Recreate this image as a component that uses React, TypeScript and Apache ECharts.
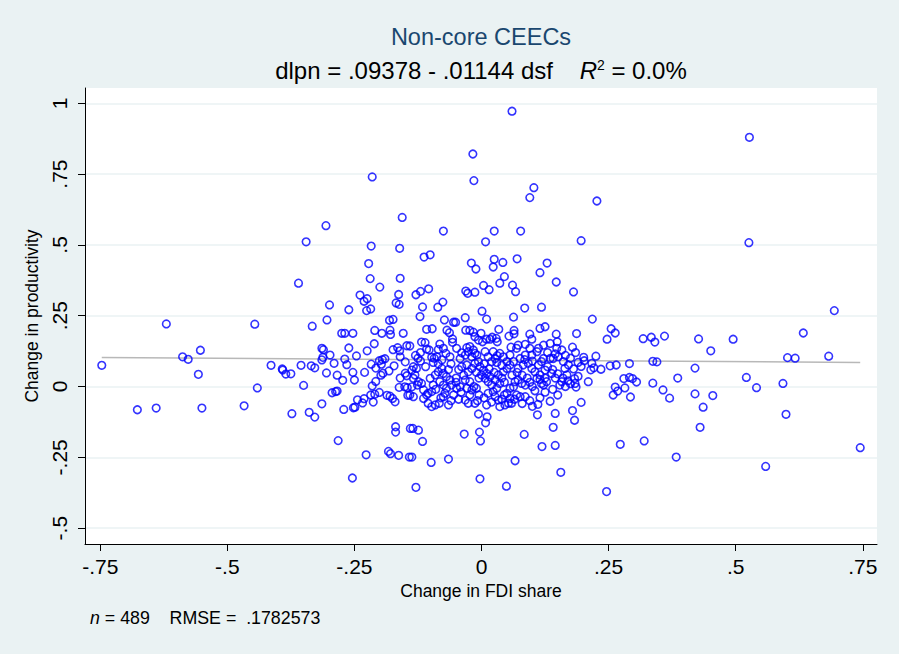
import React, { useEffect, useRef } from "react";
import * as echarts from "echarts";

// Change in FDI share (dsf), Change in productivity (dlpn)
const obs: [number, number][] = [
  // upper left
  [-0.215,0.740],[-0.156,0.597],[-0.306,0.568],[-0.345,0.511],[-0.217,0.496],[-0.161,0.488],[-0.222,0.434],[-0.219,0.381],[-0.160,0.382],[-0.200,0.351],[-0.360,0.365],[-0.239,0.323],[-0.225,0.310],[-0.231,0.301],[-0.163,0.325],[-0.168,0.295],[-0.162,0.290],[-0.299,0.288],[-0.261,0.271],[-0.226,0.268],[-0.218,0.274],
  // upper centre
  [0.060,0.972],[-0.017,0.821],[-0.015,0.727],[0.103,0.702],[0.095,0.667],[-0.075,0.549],[0.025,0.549],[0.077,0.549],[0.008,0.511],[-0.113,0.457],[-0.101,0.465],[-0.020,0.436],[-0.011,0.415],[0.025,0.449],[0.023,0.422],[0.042,0.438],[0.070,0.451],[0.115,0.402],[0.129,0.436],[0.147,0.369],[0.045,0.388],[0.036,0.365],[0.004,0.357],[0.015,0.342],[0.061,0.358],[0.067,0.335],[-0.031,0.337],[-0.027,0.329],[-0.013,0.333],[-0.129,0.324],[-0.120,0.336],[-0.104,0.345],[-0.076,0.298],[-0.086,0.280],[-0.116,0.281],[0.001,0.266],[0.085,0.277],[0.118,0.280],[0.181,0.334],
  [0.227,0.655],[0.196,0.515],[0.527,0.880],[0.526,0.508],[0.694,0.268],
  // far left
  [-0.620,0.221],[-0.747,0.075],[-0.588,0.105],[-0.577,0.096],[-0.553,0.128],[-0.557,0.043],[-0.677,-0.082],[-0.640,-0.076],[-0.550,-0.076],[-0.467,-0.068],
  // left cluster
  [-0.446,0.220],[-0.333,0.213],[-0.304,0.235],[-0.181,0.234],[-0.174,0.237],[-0.275,0.188],[-0.269,0.188],[-0.253,0.188],[-0.210,0.198],[-0.196,0.188],[-0.180,0.199],[-0.179,0.184],[-0.154,0.188],
  [-0.314,0.135],[-0.311,0.130],[-0.312,0.103],[-0.314,0.094],[-0.298,0.111],[-0.261,0.136],[-0.246,0.108],[-0.225,0.126],[-0.211,0.151],[-0.269,0.097],[-0.265,0.077],[-0.290,0.082],
  [-0.414,0.075],[-0.392,0.062],[-0.391,0.058],[-0.385,0.044],[-0.375,0.045],[-0.355,0.075],[-0.335,0.073],[-0.328,0.066],[-0.305,0.048],[-0.284,0.040],[-0.273,0.022],[-0.253,0.050],[-0.250,0.023],[-0.230,0.050],[-0.217,0.079],[-0.208,0.065],
  [-0.201,0.091],[-0.195,0.095],[-0.190,0.098],[-0.197,0.079],[-0.172,0.073],[-0.182,0.055],[-0.198,0.040],[-0.194,0.047],[-0.208,0.018],[-0.215,0.002],[-0.160,0.030],
  [-0.174,0.130],[-0.165,0.137],[-0.161,0.126],[-0.160,0.105],[-0.150,0.087],[-0.147,0.144],[-0.150,0.047],[-0.147,0.038],[-0.162,-0.003],[-0.151,-0.001],[-0.146,-0.004],[-0.145,-0.031],
  [-0.441,-0.005],[-0.350,0.004],[-0.294,-0.022],[-0.287,-0.018],[-0.284,-0.016],[-0.314,-0.061],[-0.244,-0.047],[-0.231,-0.043],[-0.252,-0.075],[-0.249,-0.073],[-0.271,-0.081],[-0.234,-0.058],[-0.213,-0.055],
  [-0.218,-0.030],[-0.210,-0.027],[-0.201,-0.021],[-0.186,-0.031],[-0.180,-0.034],[-0.175,-0.042],[-0.170,-0.054],
  [-0.373,-0.096],[-0.339,-0.091],[-0.328,-0.108],[-0.169,-0.142],[-0.169,-0.161],[-0.282,-0.191],[-0.227,-0.241],[-0.183,-0.229],[-0.179,-0.237],[-0.163,-0.243],[-0.142,-0.249],[-0.254,-0.323],[-0.140,-0.148],
  // right cluster
  [0.218,0.238],[0.255,0.204],[0.263,0.189],[0.247,0.167],[0.187,0.187],[0.179,0.139],[0.318,0.169],[0.334,0.174],[0.341,0.157],[0.360,0.178],[0.427,0.168],[0.451,0.126],[0.495,0.167],
  [0.201,0.103],[0.202,0.091],[0.225,0.107],[0.217,0.082],[0.221,0.066],[0.215,0.059],[0.235,0.061],[0.196,0.071],[0.181,0.062],[0.253,0.073],[0.265,0.076],[0.291,0.081],
  [0.337,0.089],[0.345,0.087],[0.420,0.065],[0.386,0.030],[0.190,0.036],[0.183,0.028],[0.184,0.011],[0.186,-0.002],[0.210,0.017],
  [0.280,0.028],[0.291,0.032],[0.297,0.028],[0.305,0.016],[0.282,-0.005],[0.263,-0.002],[0.259,-0.030],[0.268,-0.016],[0.293,-0.037],
  [0.337,0.012],[0.357,-0.012],[0.370,-0.041],[0.420,-0.026],[0.455,-0.032],[0.436,-0.073],[0.430,-0.144],[0.196,-0.056],[0.179,-0.085],[0.183,-0.119],[0.273,-0.204],[0.320,-0.192],[0.383,-0.249],[0.246,-0.371],
  [0.633,0.189],[0.602,0.102],[0.617,0.100],[0.683,0.107],[0.521,0.032],[0.541,-0.004],[0.593,0.011],[0.599,-0.098],[0.559,-0.282],[0.745,-0.216],
  // centre, below
  [-0.135,-0.148],[-0.124,-0.154],[-0.116,-0.194],[-0.137,-0.249],[-0.099,-0.268],[-0.065,-0.256],[-0.129,-0.356],[-0.034,-0.168],[-0.004,-0.161],[-0.002,-0.192],[-0.006,-0.097],[0.011,-0.107],[0.008,-0.128],[-0.003,-0.326],[0.049,-0.352],[0.066,-0.262],[0.084,-0.169],[0.119,-0.212],[0.145,-0.208],[0.156,-0.303],[0.141,-0.144],[0.110,-0.100],[0.111,-0.063],[0.145,-0.095],[0.135,-0.052],
  // centre, top of band
  [-0.121,0.247],[-0.073,0.235],[-0.055,0.227],[-0.051,0.227],[-0.032,0.243],[0.010,0.238],[0.063,0.245],
  [-0.108,0.202],[-0.097,0.204],[-0.068,0.199],[-0.063,0.190],[-0.057,0.168],[-0.057,0.156],[-0.031,0.199],[-0.023,0.198],[-0.016,0.192],[-0.013,0.176],[-0.001,0.188],[0.034,0.202],[0.021,0.174],[0.029,0.170],[0.054,0.178],[0.058,0.139],[0.064,0.198],[0.064,0.186],[0.095,0.185],[0.099,0.167],[0.115,0.205],[0.125,0.211],[0.147,0.185],[0.149,0.158],
  [-0.118,0.157],[-0.111,0.155],[-0.141,0.143],[-0.108,0.132],[-0.103,0.129],[-0.082,0.150],[-0.075,0.135],[-0.085,0.131],[-0.093,0.100],[-0.098,0.103],[-0.088,0.105],[-0.078,0.094],[-0.062,0.105],[-0.070,0.117],
  [-0.039,0.119],[-0.029,0.137],[-0.023,0.141],[-0.016,0.129],[-0.009,0.111],[-0.006,0.164],[0.002,0.158],[0.010,0.167],[0.017,0.167],[0.023,0.123],[0.031,0.109],[0.031,0.158],
  [-0.049,0.135],[-0.042,0.099],[-0.032,0.111],[-0.026,0.123],[-0.019,0.105],[-0.013,0.117],[0.007,0.123],[0.013,0.105],[0.020,0.088],[0.027,0.099],[0.036,0.117],[0.043,0.105],[0.050,0.088],[0.056,0.111],
  // centre, dense band
  [-0.134,0.070],[-0.128,0.064],[-0.137,0.058],[-0.131,0.041],[-0.134,0.029],[-0.124,0.017],[-0.118,0.011],[-0.126,0.005],[-0.137,-0.001],[-0.141,-0.030],[-0.134,-0.036],
  [-0.114,-0.012],[-0.105,-0.024],[-0.098,-0.018],[-0.108,-0.030],[-0.114,-0.042],[-0.105,-0.059],[-0.098,-0.071],[-0.091,-0.065],[-0.083,-0.059],
  [-0.101,0.029],[-0.091,0.041],[-0.085,0.052],[-0.078,0.064],[-0.075,0.046],[-0.069,0.035],[-0.062,0.023],[-0.082,0.017],[-0.075,0.005],[-0.069,-0.006],[-0.072,-0.024],[-0.075,-0.036],[-0.055,-0.030],[-0.049,-0.006],[-0.042,-0.001],[-0.059,0.005],
  [-0.039,0.070],[-0.029,0.076],[-0.026,0.052],[-0.019,0.064],[-0.013,0.082],[-0.006,0.088],[-0.003,0.070],[0.004,0.058],[0.010,0.046],[0.000,0.041],[0.007,0.029],[0.017,0.035],[0.013,0.017],[0.020,0.005],[0.013,-0.024],[0.023,-0.018],[0.030,-0.006],[0.036,0.011],[0.027,0.023],[0.033,0.041],[0.043,0.052],[0.050,0.064],[0.056,0.076],
  [-0.032,0.023],[-0.023,0.017],[-0.029,-0.006],[-0.019,-0.012],[-0.010,-0.006],[-0.023,-0.030],[-0.032,-0.048],[-0.026,-0.059],[-0.013,-0.059],[0.027,-0.036],[0.033,-0.048],[0.036,-0.071],[0.046,-0.065],[0.053,-0.059],[0.059,-0.059],[0.056,-0.042],[0.050,-0.024],[0.056,-0.006],[0.063,-0.001],[0.066,0.017],[0.072,0.023],[0.079,0.011],[0.086,0.005],[0.069,-0.030],[0.076,-0.036],[0.086,-0.036],
  [0.063,0.088],[0.072,0.064],[0.082,0.076],[0.092,0.082],[0.099,0.064],[0.105,0.052],[0.112,0.076],[0.118,0.088],[0.125,0.058],[0.115,0.041],[0.109,0.029],[0.118,0.011],[0.128,0.017],[0.122,0.005],[0.138,0.046],[0.154,0.005],[0.158,0.017],[0.168,0.041],[0.164,0.064],[0.171,0.076],[0.161,0.088],[0.151,0.105],[0.141,0.099],[0.135,0.099],[0.122,0.099],[0.109,0.123],[0.099,0.111],[0.086,0.111],[0.076,0.099],[0.069,0.135],[0.072,0.146],[0.086,0.149],[0.095,0.135],[0.112,0.135],[0.122,0.146],[0.135,0.152],[0.148,0.135],[0.158,0.129],
  // centre, overlapping marks
  [0.005,0.080],[0.015,0.062],[0.025,0.050],[0.040,0.030],[0.045,0.015],[0.060,0.040],[0.070,0.050],[0.080,0.040],[0.090,0.030],[0.095,0.015],[0.100,0.000],[0.105,-0.015],[0.115,0.025],[0.125,0.030],[0.130,0.070],[0.140,0.060],[0.145,0.030],[0.150,0.045],[0.160,0.030],[0.170,0.020],
  [-0.005,0.030],[-0.010,0.050],[-0.015,0.000],[-0.035,0.040],[-0.045,0.060],[-0.050,0.030],[-0.060,0.080],[-0.065,0.060],[-0.085,0.080],[-0.095,0.085],[-0.110,0.070],[-0.120,0.090],[-0.125,0.100],
  [-0.005,-0.030],[-0.008,-0.050],[0.005,-0.040],[0.010,-0.065],[0.020,-0.055],[0.040,-0.045],[0.045,-0.030],[0.065,-0.045],[0.080,-0.060],[0.095,-0.050],[0.100,-0.070],[0.115,-0.040],[0.125,-0.020],[0.140,-0.010],[0.150,-0.030],[0.165,0.000],[0.175,0.010],
  [-0.040,-0.020],[-0.045,-0.045],[-0.060,-0.050],[-0.065,-0.065],[-0.080,-0.040],[-0.090,-0.010],[-0.095,0.005],[-0.050,0.015],
  [0.030,0.085],[0.040,0.075],[0.085,0.095],[0.100,0.090],[0.130,0.120],[0.145,0.115],[0.165,0.110],[0.175,0.100],[0.185,0.120],[0.190,0.085],[-0.120,0.120],[-0.130,0.110],
];

const xTicks = [-0.75, -0.5, -0.25, 0, 0.25, 0.5, 0.75];
const yTicks = [-0.5, -0.25, 0, 0.25, 0.5, 0.75, 1];
const fitIntercept = 0.09378;
const fitSlope = -0.01144;
const titleText = "Non-core CEECs";
const nObs = 489;
const rmse = ".1782573";

const stataFmt = (v: number) => {
  if (Math.abs(v) < 1e-9) return "0";
  const s = String(+v.toFixed(2));
  return s.replace(/^(-?)0\./, "$1.");
};

export default function App() {
  const ref = useRef<HTMLDivElement>(null);
  useEffect(() => {
    if (!ref.current) return;
    const chart = echarts.init(ref.current, undefined, { renderer: "svg" });
    const xs = obs.map((d) => d[0]);
    const xMin = Math.min(...xs);
    const xMax = Math.max(...xs);
    const fit = [
      [xMin, fitIntercept + fitSlope * xMin],
      [xMax, fitIntercept + fitSlope * xMax],
    ];
    const font = "'Liberation Sans', Arial, Helvetica, sans-serif";
    chart.setOption({
      animation: false,
      backgroundColor: "#eaf2f3",
      textStyle: { fontFamily: font },
      grid: {
        left: 85,
        right: 22,
        top: 88,
        bottom: 110,
        show: true,
        backgroundColor: "#ffffff",
        borderWidth: 0,
        containLabel: false,
      },
      xAxis: {
        type: "value",
        min: -0.78,
        max: 0.778,
        name: "Change in FDI share",
        nameLocation: "middle",
        nameGap: 38,
        nameTextStyle: { fontSize: 17.5, color: "#000", fontFamily: font },
        axisLine: { show: true, onZero: false, lineStyle: { color: "#000", width: 1 } },
        axisTick: { show: true, length: 7, customValues: xTicks, lineStyle: { color: "#000" } },
        axisLabel: {
          customValues: xTicks,
          formatter: (v: number) => stataFmt(v),
          fontSize: 21,
          color: "#000",
          margin: 12,
          fontFamily: font,
        },
        splitLine: { show: false },
      },
      yAxis: {
        type: "value",
        min: -0.556,
        max: 1.054,
        name: "Change in productivity",
        nameLocation: "middle",
        nameGap: 37,
        nameTextStyle: { fontSize: 17.5, color: "#000", fontFamily: font },
        axisLine: { show: true, onZero: false, lineStyle: { color: "#000", width: 1 } },
        axisTick: { show: true, length: 7, customValues: yTicks, lineStyle: { color: "#000" } },
        axisLabel: {
          customValues: yTicks,
          formatter: (v: number) => stataFmt(v),
          fontSize: 21,
          color: "#000",
          rotate: 90,
          margin: 15,
          fontFamily: font,
        },
        splitLine: { show: true, lineStyle: { color: "#eaf2f3", width: 1.5 } },
      },
      series: [
        {
          type: "line",
          data: fit,
          symbol: "none",
          lineStyle: { color: "#b8b8b8", width: 1.5 },
          z: 1,
        },
        {
          type: "scatter",
          data: obs,
          symbol: "circle",
          symbolSize: 7.6,
          itemStyle: { color: "rgba(0,0,0,0)", borderColor: "#0000ff", borderWidth: 1.6 },
          z: 2,
        },
      ],
      graphic: [
        {
          type: "text",
          x: 481,
          y: 37,
          style: {
            text: titleText,
            fontSize: 23.5,
            fill: "#1a476f",
            align: "center",
            verticalAlign: "middle",
            fontFamily: font,
          },
        },
        {
          type: "text",
          x: 481,
          y: 70,
          style: {
            text: "{a|dlpn = .09378 - .01144 dsf    }{i|R}{s|2}{a| = 0.0%}",
            align: "center",
            verticalAlign: "middle",
            rich: {
              a: { fontSize: 24, fill: "#000", fontFamily: font },
              i: { fontSize: 24, fill: "#000", fontStyle: "italic", fontFamily: font },
              s: { fontSize: 14, fill: "#000", verticalAlign: "top", fontFamily: font, padding: [0, 0, 8, 0] },
            },
          },
        },
        {
          type: "text",
          x: 90,
          y: 618,
          style: {
            text: `{i|n}{a| = ${nObs}    RMSE =  ${rmse}}`,
            align: "left",
            verticalAlign: "middle",
            rich: {
              a: { fontSize: 17.8, fill: "#000", fontFamily: font },
              i: { fontSize: 17.8, fill: "#000", fontStyle: "italic", fontFamily: font },
            },
          },
        },
      ],
    });
    return () => chart.dispose();
  }, []);
  return (
    <div
      ref={ref}
      style={{ position: "absolute", left: 0, top: 0, width: 899, height: 654 }}
    />
  );
}
